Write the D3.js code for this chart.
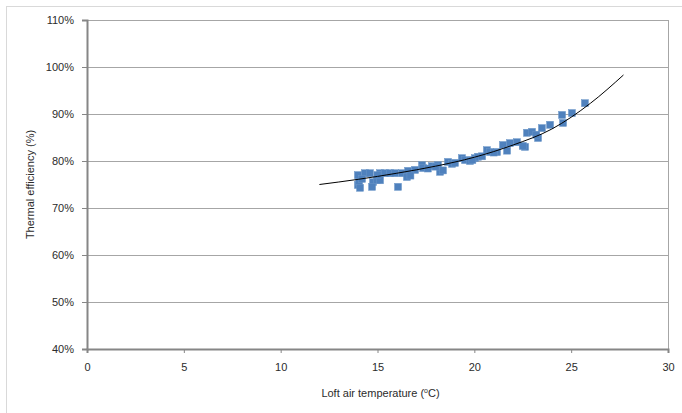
<!DOCTYPE html>
<html>
<head>
<meta charset="utf-8">
<script src="https://cdn.jsdelivr.net/npm/d3@7"></script>
<style>
  html, body { margin: 0; padding: 0; background: #fff; }
  svg { display: block; }
  text { font-family: "Liberation Sans", Arial, sans-serif; fill: #2b2b2b; }
</style>
</head>
<body>
<svg id="chart" width="682" height="413"></svg>
<script>
// Measured loft air temperature (°C) and thermal efficiency (%)
const loftTemp = [
  13.99, 13.99, 14.05, 14.1, 14.35, 14.61, 14.77, 14.97, 14.72, 15.13,
  15.39, 15.13, 15.65, 15.9, 16.06, 16.27, 16.58, 16.52, 16.94, 17.3,
  17.35, 17.81, 18.12, 18.23, 18.38, 18.64, 18.85, 19.0, 19.36, 19.52,
  19.78, 20.03, 20.19, 20.65, 20.81, 21.17, 21.48, 21.69, 21.84, 22.2,
  22.62, 22.72, 22.98, 23.29, 23.49, 23.91, 24.53, 24.58, 25.04, 25.71,
  14.2, 15.0, 16.7, 17.6, 18.0, 19.9, 20.4, 21.0, 22.5, 23.2
];
const efficiency = [
  77.0, 74.9, 75.6, 74.3, 77.4, 77.4, 75.5, 76.0, 74.5, 77.4,
  77.4, 75.9, 77.4, 77.4, 74.5, 77.4, 77.9, 76.6, 78.1, 79.1,
  78.5, 78.9, 79.1, 77.7, 78.0, 79.8, 79.4, 79.6, 80.6, 80.2,
  80.0, 80.6, 80.9, 82.3, 81.9, 81.9, 83.4, 82.2, 83.8, 84.0,
  83.0, 86.0, 86.2, 84.9, 87.0, 87.7, 89.8, 88.1, 90.2, 92.3,
  76.2, 77.0, 76.9, 78.4, 78.8, 80.2, 81.0, 81.8, 83.2, 85.6
];

// Trendline through the data, sampled along its course
const trendTemp = [12, 14, 16, 18, 20, 22, 24, 26, 27.7];
const trendEff  = [75.0, 76.1, 77.4, 78.9, 80.8, 83.4, 86.8, 92.3, 98.3];

// Axis ticks
const xTicks = [0, 5, 10, 15, 20, 25, 30];
const yTicks = [40, 50, 60, 70, 80, 90, 100, 110];

const svg = d3.select("#chart");

// Chart frame
svg.append("rect")
  .attr("x", 6.5).attr("y", 6.5)
  .attr("width", 700).attr("height", 420)
  .attr("fill", "none").attr("stroke", "#d9d9d9").attr("stroke-width", 1);

const plot = { left: 87, right: 668, top: 20, bottom: 349 };

const x = d3.scaleLinear().domain([0, 30]).range([plot.left, plot.right]);
const y = d3.scaleLinear().domain([40, 110]).range([plot.bottom, plot.top]);

// Horizontal gridlines
svg.append("g")
  .selectAll("line")
  .data(yTicks.filter(t => t > 40))
  .join("line")
  .attr("x1", plot.left).attr("x2", plot.right)
  .attr("y1", d => Math.round(y(d)) + 0.5).attr("y2", d => Math.round(y(d)) + 0.5)
  .attr("stroke", "#a6a6a6").attr("stroke-width", 1);

// Right edge of the plot area
svg.append("line")
  .attr("x1", plot.right + 0.5).attr("x2", plot.right + 0.5)
  .attr("y1", plot.top).attr("y2", plot.bottom)
  .attr("stroke", "#a6a6a6").attr("stroke-width", 1);

// Y axis
const yAxis = d3.axisLeft(y)
  .tickValues(yTicks)
  .tickSize(5)
  .tickPadding(8)
  .tickFormat(d => d + "%");
const gy = svg.append("g")
  .attr("transform", `translate(${plot.left},0)`)
  .call(yAxis);
gy.select(".domain").attr("stroke", "#868686").attr("stroke-width", 2);
gy.selectAll(".tick line").attr("stroke", "#868686");
gy.selectAll(".tick text")
  .attr("font-size", 11)
  .style("font-family", "'Liberation Sans', Arial, sans-serif")
  .attr("fill", "#2b2b2b");

// X axis
const xAxis = d3.axisBottom(x)
  .tickValues(xTicks)
  .tickSize(4)
  .tickPadding(10)
  .tickFormat(d3.format("d"));
const gx = svg.append("g")
  .attr("transform", `translate(0,${plot.bottom})`)
  .call(xAxis);
gx.select(".domain").attr("stroke", "#868686").attr("stroke-width", 2);
gx.selectAll(".tick line").attr("stroke", "#868686");
gx.selectAll(".tick text")
  .attr("font-size", 11)
  .style("font-family", "'Liberation Sans', Arial, sans-serif")
  .attr("fill", "#2b2b2b");

// Data points
const pts = loftTemp.map((t, i) => ({ t, e: efficiency[i] }));
const s = 7;
svg.append("g")
  .selectAll("rect")
  .data(pts)
  .join("rect")
  .attr("x", d => x(d.t) - s / 2)
  .attr("y", d => y(d.e) - s / 2)
  .attr("width", s).attr("height", s)
  .attr("fill", "#4f81bd")
  .attr("stroke", "#6a95c8").attr("stroke-width", 0.5);

// Trendline
const trend = trendTemp.map((t, i) => [t, trendEff[i]]);
svg.append("path")
  .datum(trend)
  .attr("fill", "none")
  .attr("stroke", "#000")
  .attr("stroke-width", 1)
  .attr("d", d3.line()
    .x(d => x(d[0]))
    .y(d => y(d[1]))
    .curve(d3.curveMonotoneX));

// Axis titles
svg.append("text")
  .attr("x", (plot.left + plot.right) / 2 + 3)
  .attr("y", 397)
  .attr("text-anchor", "middle")
  .attr("font-size", 11)
  .text("Loft air temperature (")
  .append("tspan").attr("font-size", 7).attr("dy", -4).text("o")
  .select(function() { return this.parentNode; })
  .append("tspan").attr("dy", 4).text("C)");

svg.append("text")
  .attr("transform", `translate(34,${(plot.top + plot.bottom) / 2}) rotate(-90)`)
  .attr("text-anchor", "middle")
  .attr("font-size", 11)
  .text("Thermal efficiency (%)");
</script>
</body>
</html>
